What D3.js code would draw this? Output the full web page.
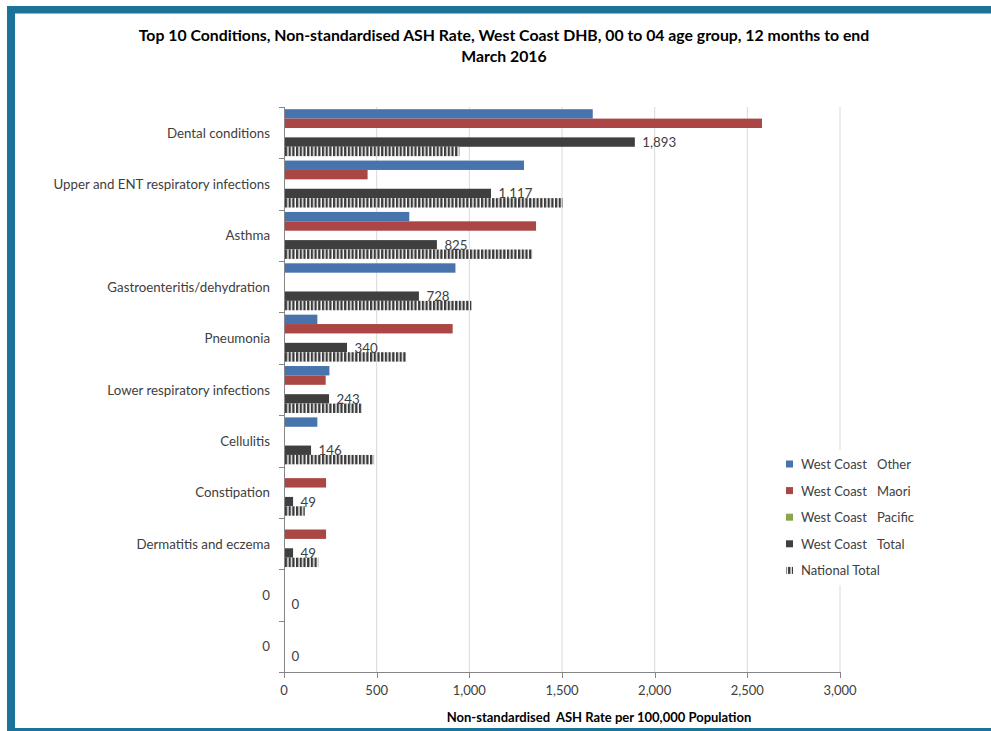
<!DOCTYPE html>
<html><head><meta charset="utf-8">
<script src="https://cdn.jsdelivr.net/npm/d3@7"></script>
<style>body{margin:0;background:#fff} svg{display:block} text{font-family:Lato,"Open Sans",sans-serif}</style>
</head><body><svg id="c" width="991" height="731"></svg>
<script>
const categories = ["Dental conditions","Upper and ENT respiratory infections","Asthma","Gastroenteritis/dehydration","Pneumonia","Lower respiratory infections","Cellulitis","Constipation","Dermatitis and eczema","0","0"];
const seriesFirst = ["West Coast","West Coast","West Coast","West Coast","National Total"];
const seriesSecond = ["Other","Maori","Pacific","Total",""];
const other = [1666,1295,676,925,180,245,180,0,0,0,0];
const maori = [2579,451,1360,0,910,225,0,227,227,0,0];
const pacific = [0,0,0,0,0,0,0,0,0,0,0];
const total = [1893,1117,825,728,340,243,146,49,49,0,0];
const national = [946,1504,1340,1011,662,419,486,112,185,0,0];
const xTicks = [0,500,1000,1500,2000,2500,3000];
const colors = ["#4874AD","#AA4643","#89A54E","#3F3F3F","url(#hatch)"];
const seriesValues = [other, maori, pacific, total, national];

const svg = d3.select("#c");
const defs = svg.append("defs");
const pat = defs.append("pattern").attr("id","hatch").attr("patternUnits","userSpaceOnUse")
  .attr("width",3.7).attr("height",10);
pat.append("rect").attr("width",3.7).attr("height",10).attr("fill","#fff");
pat.append("rect").attr("width",2.3).attr("height",10).attr("fill","#3a3a3a");

// frame
const frameC = "#1C7399";
svg.append("rect").attr("x",7).attr("y",6).attr("width",984).attr("height",7.5).attr("fill",frameC);
svg.append("rect").attr("x",7).attr("y",6).attr("width",8).attr("height",725).attr("fill",frameC);
svg.append("rect").attr("x",7).attr("y",728).attr("width",984).attr("height",3).attr("fill",frameC);

// title
svg.append("text").attr("x",504).attr("y",41).attr("text-anchor","middle").attr("font-weight","bold")
  .attr("font-size",15.8).attr("fill","#000")
  .text("Top 10 Conditions, Non-standardised ASH Rate, West Coast DHB, 00 to 04 age group, 12 months to end");
svg.append("text").attr("x",504).attr("y",62).attr("text-anchor","middle").attr("font-weight","bold")
  .attr("font-size",15.8).attr("fill","#000").text("March 2016");

const x = d3.scaleLinear().domain([0,3000]).range([284,840]);
const idx = d3.range(categories.length);
const y = d3.scaleBand().domain(idx).range([107,672]).padding(0);
const yi = d3.scaleBand().domain(d3.range(5)).range([0,y.bandwidth()]).paddingInner(0).paddingOuter(0.235);

// gridlines
svg.append("g").selectAll("line").data(xTicks.slice(1)).join("line")
  .attr("x1",d=>x(d)).attr("x2",d=>x(d)).attr("y1",107).attr("y2",672)
  .attr("stroke","#D9D9D9").attr("stroke-width",1);

// bars
const gBars = svg.append("g");
seriesValues.forEach((vals,s)=>{
  gBars.append("g").selectAll("rect").data(idx).join("rect")
    .attr("x",x(0)).attr("y",i=>y(i)+yi(s)).attr("height",yi.bandwidth())
    .attr("width",i=>x(vals[i])-x(0)).attr("fill",colors[s]);
});

// data labels on total
svg.append("g").selectAll("text").data(idx).join("text")
  .attr("x",i=>x(total[i])+7.5).attr("y",i=>y(i)+yi(3)+yi.bandwidth()/2)
  .attr("dominant-baseline","central").attr("font-size",13.3).attr("fill","#404040")
  .text(i=>d3.format(",")(total[i]));

// y axis
const yAxis = svg.append("g");
yAxis.append("line").attr("x1",284.5).attr("x2",284.5).attr("y1",107).attr("y2",672).attr("stroke","#868686");
yAxis.selectAll("line.t").data(d3.range(categories.length+1)).join("line").attr("class","t")
  .attr("x1",279).attr("x2",284.5).attr("y1",i=>Math.round(107+i*y.step())+0.5).attr("y2",i=>Math.round(107+i*y.step())+0.5)
  .attr("stroke","#868686");
yAxis.selectAll("text").data(idx).join("text")
  .attr("x",270).attr("y",i=>y(i)+y.bandwidth()/2).attr("text-anchor","end")
  .attr("dominant-baseline","central").attr("font-size",13.3).attr("fill","#404040")
  .text(i=>categories[i]);

// x axis
const xAxis = svg.append("g");
xAxis.append("line").attr("x1",284).attr("x2",840.5).attr("y1",672.5).attr("y2",672.5).attr("stroke","#868686");
xAxis.selectAll("line.t").data(xTicks).join("line").attr("class","t")
  .attr("x1",d=>Math.round(x(d))+0.5).attr("x2",d=>Math.round(x(d))+0.5).attr("y1",672).attr("y2",678)
  .attr("stroke","#868686");
xAxis.selectAll("text").data(xTicks).join("text")
  .attr("x",d=>x(d)).attr("y",690).attr("text-anchor","middle").attr("dominant-baseline","central")
  .attr("font-size",13).attr("fill","#404040").text(d=>d3.format(",")(d));
svg.append("text").attr("x",599).attr("y",717).attr("text-anchor","middle").attr("dominant-baseline","central")
  .attr("font-weight","bold").attr("font-size",13).attr("fill","#000")
  .text("Non-standardised  ASH Rate per 100,000 Population").attr("style","white-space:pre");

// legend
const lg = svg.append("g");
lg.append("rect").attr("x",776).attr("y",450).attr("width",150).attr("height",135).attr("fill","#fff");
const rows = d3.range(5);
lg.selectAll("rect.k").data(rows).join("rect").attr("class","k")
  .attr("x",786).attr("y",r=>464+r*26.6-3.5).attr("width",7).attr("height",7).attr("fill",r=>colors[r]);
lg.selectAll("text.a").data(rows).join("text").attr("class","a")
  .attr("x",801).attr("y",r=>464+r*26.6).attr("dominant-baseline","central")
  .attr("font-size",13).attr("fill","#404040").text(r=>seriesFirst[r]);
lg.selectAll("text.b").data(rows).join("text").attr("class","b")
  .attr("x",877).attr("y",r=>464+r*26.6).attr("dominant-baseline","central")
  .attr("font-size",13).attr("fill","#404040").text(r=>seriesSecond[r]);
</script></body></html>
